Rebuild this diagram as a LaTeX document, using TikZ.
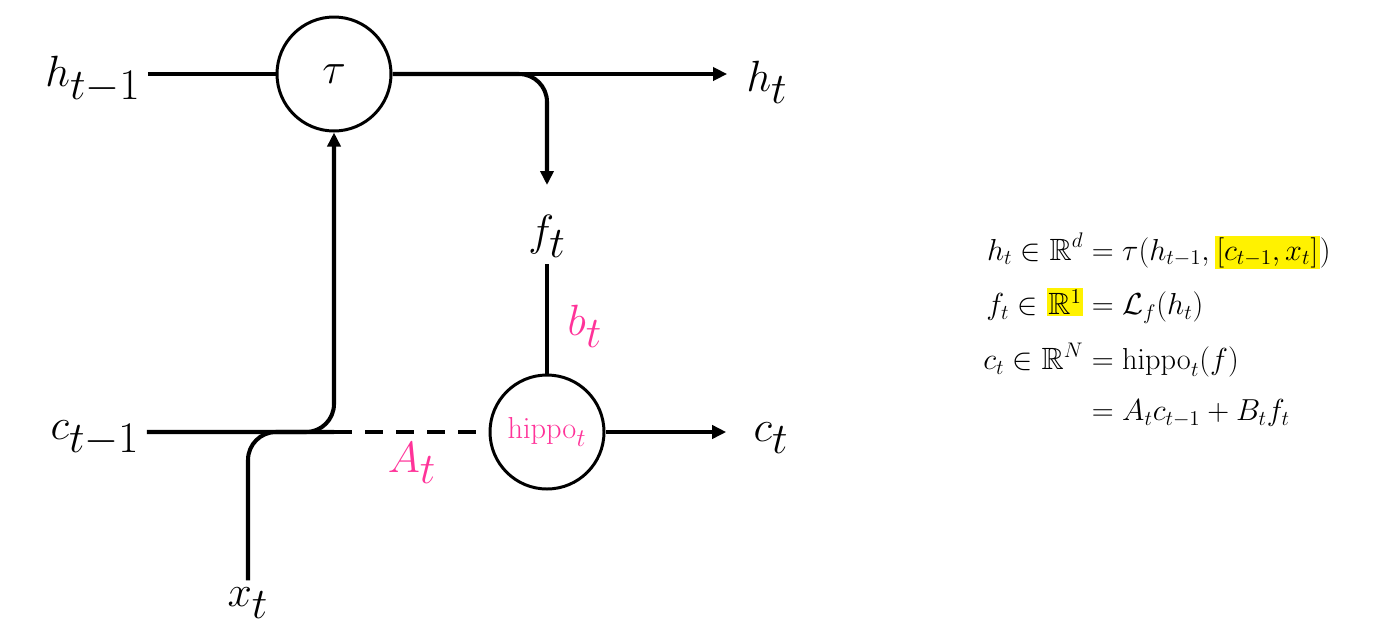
\documentclass[tikz,border=0pt]{standalone}
\usepackage{amsmath,amssymb}
\usetikzlibrary{arrows.meta}
\definecolor{hippopink}{RGB}{255,51,153}
\setlength{\jot}{9pt}
\setlength{\fboxsep}{1pt}
\newcommand{\hlbox}[1]{\colorbox{yellow}{$#1$}}
\tikzset{
  gate/.style={circle, draw, line width=1.7pt, minimum size=22.8mm, inner sep=0pt},
  lbl/.style={font=\fontsize{41}{48}\selectfont, inner sep=4pt},
  wire/.style={line width=2.3pt},
  >={Triangle[length=2.8mm,width=2.6mm]}
}
\begin{document}
\begin{tikzpicture}[x=0.2mm,y=-0.2mm]
\useasboundingbox (0,0) rectangle (1379,637);
\def\bend{28}

% Gates
\node[gate, font=\fontsize{36}{40}\selectfont] (tau) at (334,74) {$\tau$};
\node[gate, text=hippopink, font=\fontsize{19}{22}\selectfont] (hippo) at (547,432) {$\mathrm{hippo}_t$};

% Labels
\node[lbl] (hprev) at (93,80) {$h_{t-1}$};
\node[lbl] (hnext) at (767,82) {$h_t$};
\node[lbl] (ft) at (547,236) {$f_t$};
\node[lbl] (cprev) at (95,438) {$c_{t-1}$};
\node[lbl] (cnext) at (771,438) {$c_t$};
\node[lbl] (xt) at (248,603) {$x_t$};
\node[lbl, text=hippopink] (bt) at (585,326) {$b_t$};
\node[lbl, text=hippopink] (At) at (412,463) {$A_t$};
\coordinate (join) at (tau.south |- hippo);

% Hidden state
\draw[wire] (hprev.east |- tau) -- (tau.west);
\draw[wire, ->, shorten >=2.4mm] (tau.east) -- (hnext.west |- tau);
\draw[wire, ->, rounded corners=\bend*0.2mm, shorten >=4.5mm] (tau.east) -| (ft.north);

% Memory
\draw[wire] (ft.south) -- (hippo.north);
\draw[wire, ->, rounded corners=\bend*0.2mm] (cprev.east |- hippo) -| (tau.south);
\draw[wire, rounded corners=\bend*0.2mm] (xt.north) |- (join);
\draw[wire, dash pattern=on 3.6mm off 2.6mm] (join) -- (hippo.west);
\draw[wire, ->, shorten >=4mm] (hippo.east) -- (cnext.west |- hippo);

% Equations
\node[font=\fontsize{17.5}{20}\selectfont] (eqs) at (1157,332) {$\begin{aligned}
  h_t \in \mathbb{R}^d &= \tau(h_{t-1}, \hlbox{[c_{t-1}, x_t]})\\
  f_t \in \hlbox{\mathbb{R}^1} &= \mathcal{L}_f(h_t)\\
  c_t \in \mathbb{R}^N &= \mathrm{hippo}_t(f)\\
  &= A_t c_{t-1} + B_t f_t
\end{aligned}$};

\end{tikzpicture}
\end{document}
